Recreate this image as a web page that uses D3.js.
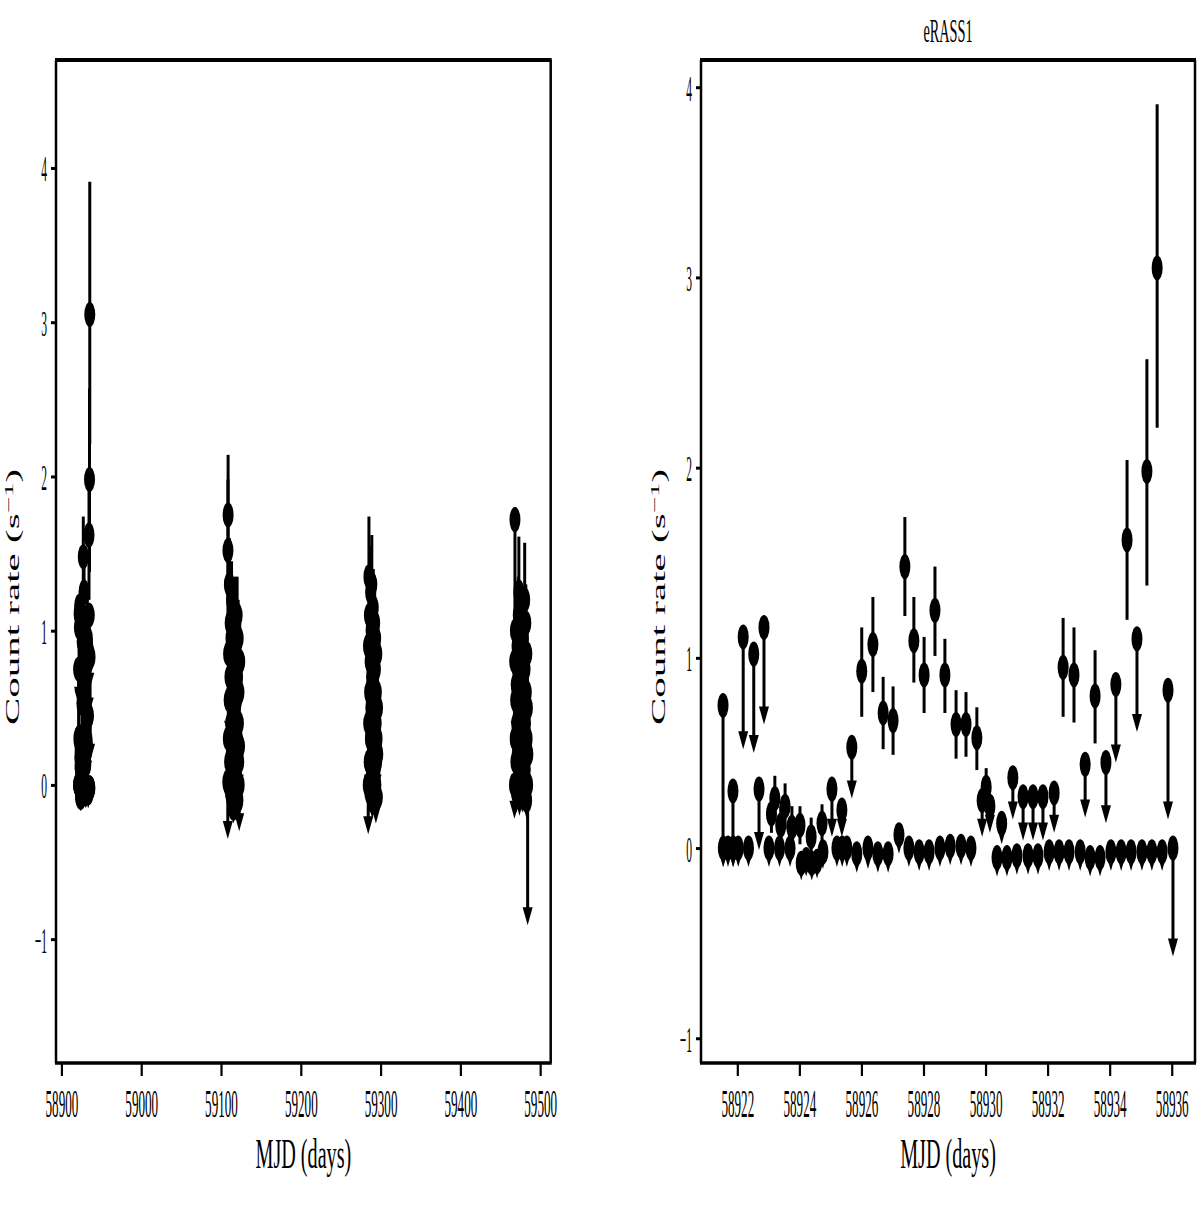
<!DOCTYPE html>
<html><head><meta charset="utf-8">
<script src="https://cdn.jsdelivr.net/npm/d3@7"></script>
<style>body{margin:0;background:#fff}svg{display:block}</style>
</head><body>
<svg id="c" width="1200" height="1205"></svg>
<script>
// ---------------- data ----------------
const xTicksAll = [58900, 59000, 59100, 59200, 59300, 59400, 59500];
const xTicksE1 = [58922, 58924, 58926, 58928, 58930, 58932, 58934, 58936];
const yTicks = [-1, 0, 1, 2, 3, 4];
const titleRight = "eRASS1";
const xLabel = "MJD (days)";
const yLabelMain = "Count rate (s";
const yLabelSup = "\u22121";
const yLabelEnd = ")";

// rows: [MJD, rate, lower end, upper end, upperLimit?]
const erass1 = [
[58921.54,0.75,-0.10,0.75,1],[58921.55,0.00,-0.10,0.00,1],[58921.70,0.00,-0.10,0.00,1],
[58921.86,0.30,-0.10,0.30,1],[58921.87,0.00,-0.10,0.00,1],[58922.03,0.00,-0.10,0.00,1],
[58922.19,1.11,0.52,1.11,1],[58922.36,0.00,-0.10,0.00,1],[58922.53,1.02,0.50,1.02,1],
[58922.70,0.31,-0.01,0.31,1],[58922.86,1.16,0.65,1.16,1],[58923.02,0.00,-0.10,0.00,1],
[58923.10,0.18,0.08,0.28,0],[58923.21,0.26,0.14,0.38,0],[58923.36,0.00,-0.10,0.00,1],
[58923.40,0.12,0.02,0.22,0],[58923.54,0.22,0.10,0.34,0],[58923.70,0.00,-0.10,0.00,1],
[58923.76,0.11,0.00,0.22,0],[58924.02,0.12,0.02,0.22,0],[58924.06,-0.08,-0.17,-0.08,1],
[58924.22,-0.06,-0.15,-0.06,1],[58924.38,0.06,-0.04,0.16,0],[58924.40,-0.08,-0.17,-0.08,1],
[58924.57,-0.07,-0.16,-0.07,1],[58924.73,0.13,0.03,0.23,0],[58924.76,-0.02,-0.11,-0.02,1],
[58925.05,0.31,0.06,0.31,1],[58925.21,0.00,-0.10,0.00,1],[58925.37,0.20,0.06,0.20,1],
[58925.38,0.00,-0.10,0.00,1],[58925.53,0.00,-0.10,0.00,1],[58925.69,0.53,0.26,0.53,1],
[58925.85,-0.03,-0.13,-0.03,1],[58926.01,0.93,0.69,1.16,0],[58926.21,0.00,-0.11,0.00,1],
[58926.37,1.07,0.82,1.32,0],[58926.53,-0.03,-0.13,-0.03,1],[58926.70,0.71,0.52,0.90,0],
[58926.86,-0.03,-0.13,-0.03,1],[58927.02,0.67,0.49,0.85,0],[58927.21,0.07,-0.03,0.07,1],
[58927.40,1.48,1.22,1.74,0],[58927.53,0.00,-0.10,0.00,1],[58927.69,1.09,0.87,1.32,0],
[58927.86,-0.02,-0.12,-0.02,1],[58928.02,0.91,0.71,1.11,0],[58928.18,-0.02,-0.12,-0.02,1],
[58928.37,1.25,1.01,1.48,0],[58928.53,0.00,-0.10,0.00,1],[58928.69,0.91,0.71,1.10,0],
[58928.86,0.01,-0.09,0.01,1],[58929.05,0.65,0.47,0.83,0],[58929.21,0.01,-0.09,0.01,1],
[58929.37,0.65,0.48,0.82,0],[58929.53,0.00,-0.10,0.00,1],[58929.72,0.58,0.41,0.74,0],
[58929.89,0.25,0.06,0.25,1],[58930.02,0.32,0.22,0.42,0],[58930.14,0.22,0.08,0.22,1],
[58930.37,-0.05,-0.15,-0.05,1],[58930.52,0.13,0.02,0.13,1],[58930.69,-0.05,-0.15,-0.05,1],
[58930.88,0.37,0.15,0.37,1],[58931.01,-0.04,-0.14,-0.04,1],[58931.21,0.27,0.04,0.27,1],
[58931.37,-0.04,-0.14,-0.04,1],[58931.53,0.27,0.04,0.27,1],[58931.69,-0.04,-0.14,-0.04,1],
[58931.85,0.27,0.04,0.27,1],[58932.05,-0.02,-0.12,-0.02,1],[58932.21,0.29,0.08,0.29,1],
[58932.37,-0.02,-0.12,-0.02,1],[58932.50,0.95,0.69,1.21,0],[58932.69,-0.02,-0.12,-0.02,1],
[58932.85,0.91,0.66,1.16,0],[58933.05,-0.02,-0.12,-0.02,1],[58933.21,0.44,0.16,0.44,1],
[58933.37,-0.05,-0.15,-0.05,1],[58933.53,0.80,0.55,1.04,0],[58933.69,-0.05,-0.15,-0.05,1],
[58933.88,0.45,0.13,0.45,1],[58934.04,-0.02,-0.12,-0.02,1],[58934.20,0.86,0.45,0.86,1],
[58934.37,-0.02,-0.12,-0.02,1],[58934.56,1.62,1.20,2.04,0],[58934.69,-0.02,-0.12,-0.02,1],
[58934.88,1.10,0.61,1.10,1],[58935.04,-0.02,-0.12,-0.02,1],[58935.20,1.98,1.38,2.57,0],
[58935.36,-0.02,-0.12,-0.02,1],[58935.53,3.05,2.21,3.91,0],[58935.69,-0.02,-0.12,-0.02,1],
[58935.88,0.83,0.15,0.83,1],[58936.04,0.00,-0.57,0.00,1]
];
// last-scan point that the all-survey panel does not show
const erass1OnlyInZoom = [58936.04];

const erass2 = [
[59108.5,0.02,-0.35,0.02,1],[59108.7,1.52,1.06,1.98,0],[59108.9,1.75,1.36,2.14,0],
[59109.2,0.30,0.05,0.55,0],[59109.5,0.85,0.60,1.10,0],[59109.8,0.00,-0.10,0.00,1],
[59110.2,0.55,0.30,0.55,1],[59110.5,1.30,1.00,1.60,0],[59110.8,0.15,-0.05,0.15,1],
[59111.2,0.70,0.45,0.95,0],[59111.5,1.05,0.80,1.30,0],[59111.8,-0.05,-0.15,-0.05,1],
[59112.2,0.40,0.15,0.65,0],[59112.5,0.95,0.70,1.20,0],[59112.8,0.20,0.00,0.20,1],
[59113.2,1.20,0.95,1.45,0],[59113.5,0.60,0.35,0.85,0],[59113.8,-0.10,-0.20,-0.10,1],
[59114.2,0.80,0.55,1.05,0],[59114.5,0.10,-0.05,0.10,1],[59114.8,0.45,0.20,0.70,0],
[59115.2,1.00,0.75,1.25,0],[59115.5,-0.15,-0.25,-0.15,1],[59115.8,0.65,0.40,0.90,0],
[59116.2,0.25,0.05,0.25,1],[59116.5,0.90,0.65,1.15,0],[59116.8,0.35,0.10,0.60,0],
[59117.2,0.00,-0.12,0.00,1],[59117.5,0.75,0.50,1.00,0],[59117.8,1.10,0.85,1.35,0],
[59118.2,0.50,0.25,0.75,0],[59118.5,-0.05,-0.18,-0.05,1],[59118.8,0.20,0.00,0.40,0],
[59119.2,0.85,0.60,1.10,0],[59119.5,0.55,0.30,0.80,0],[59119.8,0.05,-0.10,0.05,1],
[59120.2,1.10,0.85,1.35,0],[59120.5,0.30,0.10,0.30,1],[59120.8,0.70,0.45,0.95,0],
[59121.2,-0.10,-0.22,-0.10,1],[59121.5,0.95,0.70,1.20,0],[59121.8,0.40,0.15,0.65,0],
[59122.2,0.15,-0.05,0.15,1],[59122.5,0.60,0.35,0.85,0],[59122.8,0.00,-0.30,0.00,1],
[59123.2,0.25,0.05,0.45,0],[59123.5,0.80,0.55,1.05,0]
];

const erass3 = [
[59284.5,0.00,-0.32,0.00,1],[59284.8,0.90,0.65,1.15,0],[59285.1,0.40,0.15,0.65,0],
[59285.4,1.35,0.95,1.74,0],[59285.7,0.15,-0.05,0.15,1],[59286.0,1.10,0.85,1.35,0],
[59286.3,0.60,0.35,0.85,0],[59286.6,-0.05,-0.18,-0.05,1],[59286.9,0.80,0.55,1.05,0],
[59287.2,0.30,0.05,0.55,0],[59287.5,1.25,0.90,1.55,0],[59287.8,0.50,0.25,0.50,1],
[59288.1,1.00,0.75,1.25,0],[59288.4,0.10,-0.05,0.10,1],[59288.7,0.70,0.45,0.95,0],
[59289.0,1.30,1.00,1.62,0],[59289.3,0.20,0.00,0.40,0],[59289.6,-0.10,-0.22,-0.10,1],
[59289.9,0.95,0.70,1.20,0],[59290.2,0.45,0.20,0.70,0],[59290.5,0.00,-0.12,0.00,1],
[59290.8,1.15,0.90,1.40,0],[59291.1,0.65,0.40,0.90,0],[59291.4,0.25,0.05,0.25,1],
[59291.7,0.85,0.60,1.10,0],[59292.0,0.35,0.10,0.60,0],[59292.3,-0.05,-0.18,-0.05,1],
[59292.6,1.05,0.80,1.30,0],[59292.9,0.55,0.30,0.80,0],[59293.2,0.10,-0.05,0.10,1],
[59293.5,0.75,0.50,1.00,0],[59293.8,0.95,0.70,1.20,0],[59294.1,0.00,-0.25,0.00,1],
[59294.4,0.40,0.15,0.65,0],[59294.7,0.60,0.35,0.85,0],[59295.0,0.15,-0.05,0.15,1],
[59295.3,0.85,0.60,1.10,0],[59295.6,0.30,0.10,0.50,0],[59295.9,-0.08,-0.20,-0.08,1],
[59296.2,0.50,0.25,0.75,0],[59296.5,0.20,0.00,0.40,0]
];

const erass4 = [
[59467.8,0.00,-0.22,0.00,1],[59468.1,0.80,0.55,1.05,0],[59468.4,1.72,1.00,1.80,0],
[59468.7,0.30,0.05,0.55,0],[59469.0,1.00,0.75,1.25,0],[59469.3,0.55,0.30,0.55,1],
[59469.6,0.15,-0.05,0.15,1],[59470.0,0.65,0.40,0.90,0],[59470.3,-0.05,-0.18,-0.05,1],
[59470.6,0.40,0.15,0.65,0],[59471.0,0.90,0.65,1.15,0],[59471.3,0.20,0.00,0.20,1],
[59471.6,0.75,0.50,1.00,0],[59472.0,0.00,-0.12,0.00,1],[59472.3,0.50,0.25,0.75,0],
[59472.6,1.10,0.85,1.35,0],[59473.0,0.25,0.05,0.45,0],[59473.3,1.25,0.90,1.61,0],
[59473.6,0.60,0.35,0.85,0],[59474.0,-0.08,-0.20,-0.08,1],[59474.3,0.85,0.60,1.10,0],
[59474.6,0.35,0.10,0.60,0],[59475.0,0.10,-0.05,0.10,1],[59475.3,0.70,0.45,0.95,0],
[59475.6,1.00,0.75,1.25,0],[59476.0,0.45,0.20,0.70,0],[59476.3,0.00,-0.12,0.00,1],
[59476.6,0.55,0.30,0.80,0],[59477.0,0.20,0.00,0.40,0],[59477.3,0.80,0.55,1.05,0],
[59477.6,-0.05,-0.18,-0.05,1],[59478.0,0.35,0.10,0.60,0],[59478.3,0.65,0.40,0.90,0],
[59478.6,0.15,-0.05,0.15,1],[59479.0,0.95,0.70,1.20,0],[59479.3,0.30,0.10,0.50,0],
[59479.6,0.00,-0.12,0.00,1],[59480.0,0.55,0.30,0.80,0],[59480.6,1.20,0.85,1.57,0],
[59481.0,0.75,0.50,1.00,0],[59481.3,0.10,-0.08,0.10,1],[59481.6,0.40,0.15,0.65,0],
[59482.0,1.05,0.80,1.30,0],[59482.3,0.25,0.05,0.25,1],[59482.6,0.60,0.35,0.85,0],
[59483.0,-0.10,-0.22,-0.10,1],[59483.3,0.85,0.60,1.10,0],[59483.6,0.30,0.10,0.50,0],
[59484.0,0.50,0.25,0.75,0],[59484.3,0.00,-0.91,0.00,1],[59484.6,0.20,0.00,0.40,0]
];

// ---------------- drawing ----------------
const svg = d3.select("#c");
const FONT = "'Liberation Serif', 'DejaVu Serif', serif";
const SX = 0.32; // horizontal squeeze of the glyphs

function panel(opt) {
  const {x0, x1, y0, y1, xDomain, yDomain, xTicks, series, title, ylabX} = opt;
  const x = d3.scaleLinear().domain(xDomain).range([x0, x1]);
  const y = d3.scaleLinear().domain(yDomain).range([y1, y0]);
  const g = svg.append("g");

  const marks = g.append("g");
  const HEAD_H = 18, HEAD_W = 5;
  series.forEach(data => {
    data.forEach(d => {
      const [t, v, lo, hi, ul] = d;
      const px = x(t);
      if (!ul) {
        marks.append("line").attr("x1", px).attr("x2", px)
          .attr("y1", y(lo)).attr("y2", y(hi))
          .attr("stroke", "#000").attr("stroke-width", 3);
      } else {
        const tip = y(lo);
        const base = tip - HEAD_H;
        if (base > y(v)) {
          marks.append("line").attr("x1", px).attr("x2", px)
            .attr("y1", y(v)).attr("y2", base + 1)
            .attr("stroke", "#000").attr("stroke-width", 3);
        }
        marks.append("path")
          .attr("d", `M${px - HEAD_W},${base}L${px + HEAD_W},${base}L${px},${tip}Z`)
          .attr("fill", "#000");
      }
    });
    data.forEach(d => {
      marks.append("ellipse").attr("cx", x(d[0])).attr("cy", y(d[1]))
        .attr("rx", 5.5).attr("ry", 12.5).attr("fill", "#000");
    });
  });

  // axes
  const xa = g.append("g").attr("transform", `translate(0,${y1})`)
    .call(d3.axisBottom(x).tickValues(xTicks).tickSize(13).tickFormat(d3.format("d")));
  xa.select(".domain").remove();
  xa.selectAll(".tick line").attr("stroke", "#000").attr("stroke-width", 2.2);
  xa.selectAll(".tick text").attr("y", 54).attr("dy", null)
    .attr("transform", `scale(${SX},1)`)
    .style("font-family", FONT).style("font-size", "41px").attr("fill", "#000");

  const ya = g.append("g").attr("transform", `translate(${x0},0)`)
    .call(d3.axisLeft(y).tickValues(yTicks).tickSize(5).tickFormat(d3.format("d")));
  ya.select(".domain").remove();
  ya.selectAll(".tick line").attr("stroke", "#000").attr("stroke-width", 3);
  ya.selectAll(".tick text").attr("x", -9 / SX).attr("dy", "0.36em")
    .attr("transform", `scale(${SX},1)`)
    .style("font-family", FONT).style("font-size", "36px").attr("fill", "#000");

  // frame
  const fr = g.append("g").attr("stroke", "#000");
  fr.append("line").attr("x1", x0 - 1).attr("x2", x1 + 1).attr("y1", y0).attr("y2", y0).attr("stroke-width", 4);
  fr.append("line").attr("x1", x0 - 1).attr("x2", x1 + 1).attr("y1", y1).attr("y2", y1).attr("stroke-width", 3.5);
  fr.append("line").attr("x1", x0).attr("x2", x0).attr("y1", y0).attr("y2", y1).attr("stroke-width", 2.5);
  fr.append("line").attr("x1", x1).attr("x2", x1).attr("y1", y0).attr("y2", y1).attr("stroke-width", 2.5);

  const cx = (x0 + x1) / 2;
  g.append("text").attr("transform", `translate(${cx},1168) scale(0.48,1)`)
    .attr("text-anchor", "middle").style("font-family", FONT).style("font-size", "42px")
    .text(xLabel);

  const yl = g.append("text")
    .attr("transform", `translate(${ylabX},597) rotate(-90) scale(1,0.45)`)
    .attr("text-anchor", "middle").style("font-family", FONT).style("font-size", "41px");
  yl.append("tspan").text(yLabelMain);
  yl.append("tspan").attr("dy", -14).style("font-size", "29px").text(yLabelSup);
  yl.append("tspan").attr("dy", 14).text(yLabelEnd);

  if (title) {
    g.append("text").attr("transform", `translate(${cx},42) scale(0.42,1)`)
      .attr("text-anchor", "middle").style("font-family", FONT).style("font-size", "34px")
      .text(title);
  }
}

panel({
  x0: 56, x1: 550.7, y0: 60, y1: 1063,
  xDomain: [58893.2, 59513.2], yDomain: [-1.803, 4.70],
  xTicks: xTicksAll,
  series: [erass1.filter(d => !erass1OnlyInZoom.includes(d[0])), erass2, erass3, erass4],
  title: null, ylabX: 19
});
panel({
  x0: 701, x1: 1195, y0: 60, y1: 1063,
  xDomain: [58920.83, 58936.75], yDomain: [-1.130, 4.143],
  xTicks: xTicksE1, series: [erass1], title: titleRight, ylabX: 665
});
</script>
</body></html>
